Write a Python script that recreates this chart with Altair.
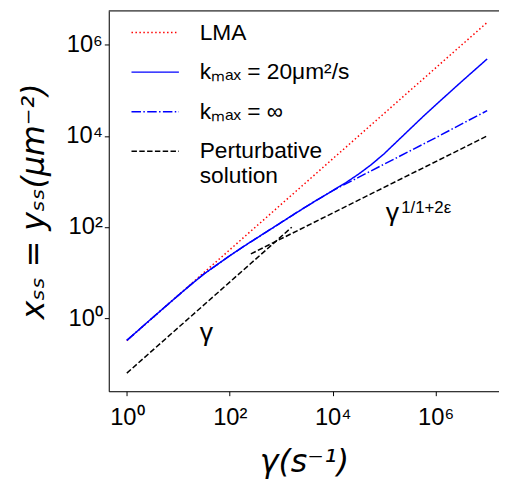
import altair as alt
import pandas as pd

# ---------------- data ----------------
series_labels = ["LMA", "kₘₐₓ = 20μm²/s", "kₘₐₓ = ∞", "Perturbative solution"]
series_colors = ["#ff0000", "#0000ff", "#0000ff", "#000000"]
series_dashes = [[1.5, 2.5], [1, 0], [9.6, 2.4, 1.5, 2.4], [5.5, 2.4]]

gamma_lma = [1, 1e7]
x_lma = [0.32, 3.1e6]

gamma_k20 = [1, 3.16, 10, 17.8, 31.6, 56.2, 100, 178, 316, 562, 1000, 1778, 3162, 5623,
             1e4, 17780, 31620, 56230, 1e5, 177800, 316200, 562300, 1e6, 3.162e6, 1e7]
x_k20 = [0.324, 1.02, 3.16, 5.50, 9.33, 14.8, 23.4, 36.3, 55.0, 83.2, 126, 191, 288, 427,
         631, 933, 1445, 2344, 4074, 7586, 14130, 26300, 47860, 154900, 489800]

gamma_kinf = [1, 3.16, 10, 17.8, 31.6, 56.2, 100, 178, 316, 562, 1000, 1778, 3162, 5623,
              1e4, 31620, 1e5, 316200, 1e6, 3.162e6, 1e7]
x_kinf = [0.324, 1.02, 3.16, 5.50, 9.33, 14.8, 23.4, 36.3, 55.0, 83.2, 126, 191, 288, 427,
          631, 1230, 2399, 4677, 9120, 18200, 35900]

gamma_pert_low = [1, 1600]
x_pert_low = [0.062, 99]
gamma_pert_high = [257, 1e7]
x_pert_high = [25.7, 1.0e4]

ann_text = ["γ", "γ"]
ann_gamma = [35, 144500]
ann_x = [0.317, 134]
sup_text = ["1/1+2ε"]
sup_gamma = [213800]
sup_x = [199.5]

tick_values = [1, 100, 1e4, 1e6]

# ---------------- build table ----------------
rows = []
def add(label, seg, gs, xs):
    for g, v in zip(gs, xs):
        rows.append({"series": label, "segment": seg, "gamma": g, "value": v})

add(series_labels[0], "lma", gamma_lma, x_lma)
add(series_labels[1], "k20", gamma_k20, x_k20)
add(series_labels[2], "kinf", gamma_kinf, x_kinf)
add(series_labels[3], "pert_low", gamma_pert_low, x_pert_low)
add(series_labels[3], "pert_high", gamma_pert_high, x_pert_high)
df = pd.DataFrame(rows)

ann_df = pd.DataFrame({"text": ann_text, "gamma": ann_gamma, "value": ann_x})
sup_df = pd.DataFrame({"text": sup_text, "gamma": sup_gamma, "value": sup_x})

W, H = 395, 385
xscale = alt.Scale(type="log", domain=[0.4457, 1.7e7], nice=False)
yscale = alt.Scale(type="log", domain=[0.0248, 5.57e6], nice=False)

tick_expr = ("datum.value < 10 ? '10⁰' : datum.value < 1000 ? '10²' : "
             "datum.value < 100000 ? '10⁴' : '10⁶'")

common_axis = dict(values=tick_values, labelExpr=tick_expr, grid=False,
                   labelFont="Liberation Sans", labelFontSize=24, labelColor="black",
                   tickSize=4.5, tickColor="black", domainColor="black",
                   titleFont="DejaVu Sans", titleFontSize=32, titleFontWeight="normal",
                   titleFontStyle="italic", titleColor="black")

legend = alt.Legend(title=None, orient="none", legendX=22, legendY=-3,
                    symbolType="stroke", symbolSize=2304, symbolStrokeWidth=1.5,
                    labelFont="Liberation Sans", labelFontSize=23, labelColor="black",
                    labelOffset=20, labelLimit=400, rowPadding=3, padding=0,
                    labelExpr="datum.label == 'Perturbative solution' ? ['Perturbative', 'solution'] : datum.label")

lines = alt.Chart(df).mark_line(strokeWidth=1.5, clip=True).encode(
    x=alt.X("gamma:Q", scale=xscale,
            axis=alt.Axis(title="γ(s⁻¹)", labelPadding=10, titlePadding=18, **common_axis)),
    y=alt.Y("value:Q", scale=yscale,
            axis=alt.Axis(title="xₛₛ = yₛₛ(μm⁻²)", labelPadding=2, titlePadding=16, **common_axis)),
    color=alt.Color("series:N", scale=alt.Scale(domain=series_labels, range=series_colors), legend=legend),
    strokeDash=alt.StrokeDash("series:N", scale=alt.Scale(domain=series_labels, range=series_dashes), legend=legend),
    detail="segment:N",
)

ann = alt.Chart(ann_df).mark_text(font="Liberation Sans", fontSize=27, baseline="alphabetic",
                                  align="center", color="black").encode(
    x=alt.X("gamma:Q", scale=xscale), y=alt.Y("value:Q", scale=yscale), text="text:N")

sup = alt.Chart(sup_df).mark_text(font="Liberation Sans", fontSize=17, baseline="alphabetic",
                                  align="left", color="black").encode(
    x=alt.X("gamma:Q", scale=xscale), y=alt.Y("value:Q", scale=yscale), text="text:N")

top_spine = alt.Chart(pd.DataFrame({"a": [0]})).mark_rule(color="black", strokeWidth=1).encode(
    x=alt.value(0), x2=alt.value(W), y=alt.value(0))

chart = alt.layer(lines, ann, sup, top_spine).properties(
    width=W, height=H,
    autosize=alt.AutoSizeParams(type="none"),
    padding={"left": 102, "top": 0, "right": 0, "bottom": 92},
).configure_view(stroke=None).configure(background="white")

chart.save("out.html", embed_options={"renderer": "svg", "actions": False})
